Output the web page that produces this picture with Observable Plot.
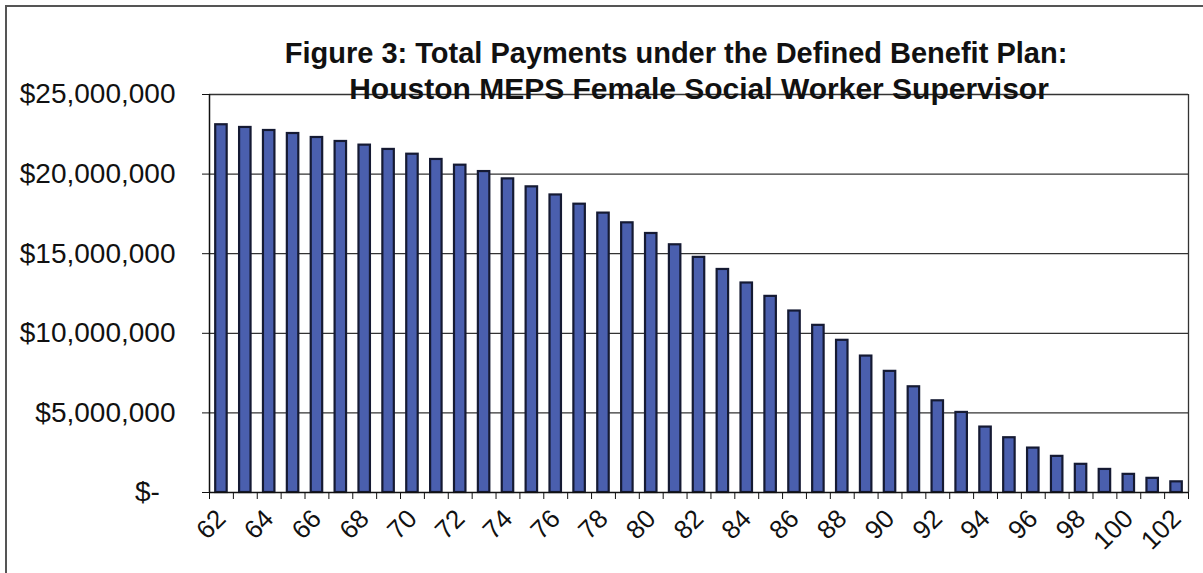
<!DOCTYPE html>
<html><head><meta charset="utf-8">
<script src="https://cdn.jsdelivr.net/npm/d3@7"></script>
<script src="https://cdn.jsdelivr.net/npm/@observablehq/plot@0.6"></script>
<style>
body{margin:0;background:#fff;}
#wrap{position:relative;width:1203px;height:573px;overflow:hidden;background:#fff;}
#border{position:absolute;left:5px;top:5px;right:-10px;bottom:-10px;border-left:2px solid #555;border-top:2px solid #555;pointer-events:none;}
</style></head><body><div id="wrap"><div id="border"></div></div>
<script>
const titleLine1 = "Figure 3: Total Payments under the Defined Benefit Plan:";
const titleLine2 = "Houston MEPS Female Social Worker Supervisor";
const ages = [62,63,64,65,66,67,68,69,70,71,72,73,74,75,76,77,78,79,80,81,82,83,84,85,86,87,88,89,90,91,92,93,94,95,96,97,98,99,100,101,102];
const payments = [23100000,22930000,22740000,22550000,22300000,22050000,21820000,21550000,21250000,20920000,20560000,20160000,19700000,19200000,18690000,18110000,17550000,16940000,16270000,15560000,14770000,14010000,13160000,12320000,11400000,10500000,9560000,8570000,7610000,6640000,5760000,5030000,4110000,3440000,2790000,2270000,1770000,1450000,1140000,890000,670000];
const yTicks = [0,5000000,10000000,15000000,20000000,25000000];
const xLabelAges = [62,64,66,68,70,72,74,76,78,80,82,84,86,88,90,92,94,96,98,100,102];

const data = ages.map((a,i)=>({age:a, value:payments[i]}));
const boundaries = ages.map(a=>a-0.5).concat([ages[ages.length-1]+0.5]);
const fmt = d => d === 0 ? "$-\u00a0\u00a0" : d3.format("$,")(d);

const chart = Plot.plot({
  width: 1203, height: 573,
  marginLeft: 209, marginRight: 15, marginTop: 94, marginBottom: 81,
  style: {fontFamily: "'Liberation Sans', Arial, sans-serif", background: "transparent", color: "#111"},
  x: {type: "linear", domain: [61.5, 102.5]},
  y: {domain: [0, 25000000]},
  marks: [
    Plot.ruleY(yTicks.filter(d=>d>0), {stroke: "#333", strokeWidth: 1.3}),
    Plot.ruleX([102.5], {stroke: "#333", strokeWidth: 1.3}),
    Plot.rectY(data, {x1: d=>d.age-0.24, x2: d=>d.age+0.24, y: "value", fill: "#4a5fae", stroke: "#151a33", strokeWidth: 2.2}),
    Plot.ruleX([61.5], {stroke: "#111", strokeWidth: 1.5}),
    Plot.ruleY([0], {stroke: "#111", strokeWidth: 1.5}),
    Plot.axisY({ticks: yTicks, tickSize: 7, tickPadding: 27, tickFormat: fmt, fontSize: 28, label: null}),
    Plot.axisX({ticks: boundaries, tickSize: 7, tickFormat: () => "", label: null}),
    Plot.axisX({ticks: xLabelAges, tickSize: 0, tickPadding: 22, tickRotate: -45, tickFormat: d=>String(d), fontSize: 26, label: null}),
    Plot.text([titleLine1], {frameAnchor: "top", dx: -23, dy: -52, text: d=>d, fontSize: 29, fontWeight: "bold", fill: "#111"}),
    Plot.text([titleLine2], {frameAnchor: "top", dx: 0, dy: -17, text: d=>d, fontSize: 30, fontWeight: "bold", fill: "#111"})
  ]
});
document.getElementById("wrap").prepend(chart);
</script>
</body></html>
